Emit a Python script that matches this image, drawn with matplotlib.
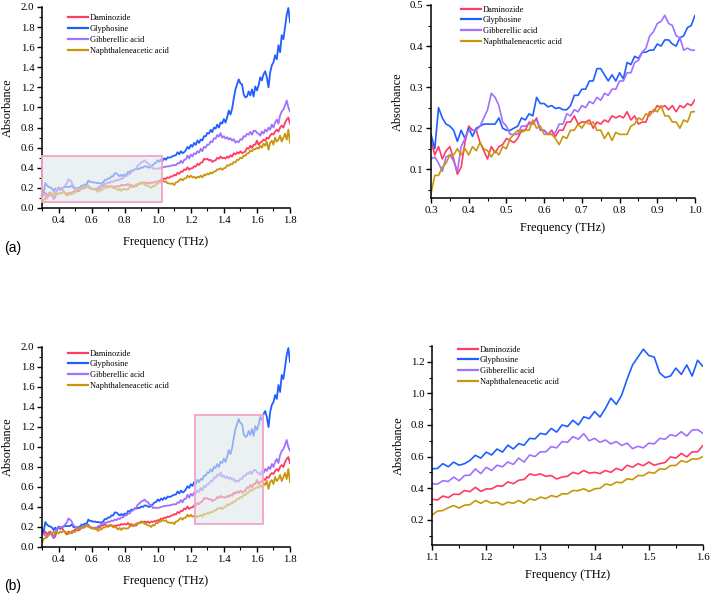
import numpy as np
import matplotlib
matplotlib.use("Agg")
import matplotlib.pyplot as plt
from matplotlib.patches import Rectangle
from matplotlib.ticker import MultipleLocator, FormatStrFormatter

plt.rcParams['font.family'] = ['Liberation Serif', 'DejaVu Serif']

# ---------------- data ----------------
freq = np.round(np.arange(0.30, 1.8001, 0.01), 2)

series_names = ["Daminozide", "Glyphosine", "Gibberellic acid", "Naphthaleneacetic acid"]
series_colors = ["#FF3A64", "#1F5EFF", "#A070FF", "#C8960A"]

daminozide = [
    0.17, 0.135, 0.155, 0.125, 0.145, 0.155, 0.125, 0.088, 0.105, 0.165,
    0.205, 0.195, 0.195, 0.165, 0.145, 0.125, 0.155, 0.14, 0.155, 0.16,
    0.175, 0.17, 0.165, 0.175, 0.195, 0.195, 0.215, 0.21, 0.225, 0.195,
    0.195, 0.185, 0.195, 0.18, 0.195, 0.195, 0.215, 0.215, 0.23, 0.21,
    0.215, 0.215, 0.22, 0.20, 0.215, 0.21, 0.22, 0.215, 0.23, 0.225,
    0.23, 0.225, 0.24, 0.22, 0.23, 0.21, 0.215, 0.215, 0.24, 0.24,
    0.255, 0.25, 0.255, 0.245, 0.255, 0.24, 0.255, 0.25, 0.26, 0.255,
    0.27, 0.265, 0.285, 0.28, 0.295, 0.29, 0.305, 0.30, 0.315, 0.315,
    0.33, 0.325, 0.35, 0.34, 0.362, 0.36, 0.385, 0.378, 0.405, 0.38,
    0.395, 0.395, 0.415, 0.412, 0.44, 0.428, 0.45, 0.455, 0.49, 0.482,
    0.49, 0.475, 0.48, 0.458, 0.47, 0.475, 0.50, 0.49, 0.512, 0.495,
    0.50, 0.492, 0.512, 0.50, 0.525, 0.512, 0.545, 0.532, 0.555, 0.542,
    0.565, 0.545, 0.555, 0.562, 0.598, 0.59, 0.62, 0.598, 0.63, 0.63,
    0.67, 0.63, 0.65, 0.66, 0.68, 0.67, 0.70, 0.69, 0.72, 0.74,
    0.73, 0.76, 0.78, 0.76, 0.80, 0.82, 0.80, 0.85, 0.88, 0.90,
    0.84]

glyphosine = [
    0.185, 0.15, 0.25, 0.225, 0.21, 0.205, 0.195, 0.168, 0.195, 0.175,
    0.20, 0.18, 0.20, 0.205, 0.21, 0.21, 0.21, 0.21, 0.225, 0.20,
    0.195, 0.195, 0.20, 0.205, 0.225, 0.22, 0.235, 0.23, 0.275, 0.26,
    0.26, 0.252, 0.255, 0.248, 0.25, 0.245, 0.245, 0.255, 0.28, 0.28,
    0.295, 0.295, 0.315, 0.315, 0.345, 0.345, 0.33, 0.315, 0.33, 0.315,
    0.335, 0.32, 0.36, 0.355, 0.375, 0.37, 0.385, 0.385, 0.39, 0.39,
    0.405, 0.40, 0.415, 0.415, 0.405, 0.40, 0.42, 0.425, 0.445, 0.45,
    0.475, 0.46, 0.485, 0.47, 0.495, 0.48, 0.505, 0.50, 0.505, 0.515,
    0.522, 0.525, 0.555, 0.535, 0.565, 0.545, 0.555, 0.575, 0.608, 0.59,
    0.628, 0.61, 0.648, 0.628, 0.672, 0.648, 0.682, 0.672, 0.715, 0.712,
    0.747, 0.74, 0.778, 0.755, 0.80, 0.79, 0.83, 0.80, 0.852, 0.84,
    0.885, 0.85, 0.905, 0.97, 0.93, 0.99, 1.09, 1.18, 1.23, 1.28,
    1.24, 1.23, 1.13, 1.10, 1.11, 1.16, 1.12, 1.18, 1.11, 1.21,
    1.17, 1.22, 1.30, 1.27, 1.33, 1.36, 1.30, 1.20, 1.35, 1.42,
    1.45, 1.52, 1.48, 1.62, 1.55, 1.72, 1.68, 1.80, 1.92, 1.99,
    1.85]

gibberellic = [
    0.125, 0.13, 0.115, 0.095, 0.13, 0.135, 0.12, 0.095, 0.155, 0.175,
    0.195, 0.195, 0.195, 0.205, 0.225, 0.245, 0.285, 0.275, 0.255, 0.215,
    0.205, 0.185, 0.185, 0.185, 0.205, 0.205, 0.21, 0.215, 0.22, 0.195,
    0.195, 0.185, 0.185, 0.19, 0.21, 0.21, 0.235, 0.23, 0.245, 0.24,
    0.255, 0.25, 0.265, 0.26, 0.275, 0.268, 0.285, 0.28, 0.295, 0.295,
    0.315, 0.315, 0.335, 0.335, 0.36, 0.365, 0.385, 0.395, 0.425, 0.435,
    0.455, 0.46, 0.475, 0.455, 0.45, 0.425, 0.42, 0.39, 0.395, 0.39,
    0.39, 0.395, 0.40, 0.405, 0.41, 0.41, 0.415, 0.415, 0.42, 0.425,
    0.428, 0.425, 0.447, 0.442, 0.47, 0.447, 0.48, 0.482, 0.522, 0.492,
    0.532, 0.512, 0.545, 0.535, 0.566, 0.55, 0.59, 0.565, 0.61, 0.60,
    0.63, 0.63, 0.663, 0.655, 0.695, 0.69, 0.726, 0.71, 0.745, 0.70,
    0.715, 0.69, 0.705, 0.68, 0.695, 0.67, 0.685, 0.65, 0.665, 0.655,
    0.685, 0.68, 0.715, 0.71, 0.738, 0.73, 0.757, 0.73, 0.768, 0.77,
    0.747, 0.74, 0.72, 0.76, 0.74, 0.78, 0.76, 0.80, 0.78, 0.83,
    0.80, 0.85, 0.88, 0.84, 0.92, 0.96, 0.98, 1.02, 1.07, 1.00,
    0.96]

naphthaleneacetic = [
    0.04, 0.085, 0.085, 0.105, 0.115, 0.135, 0.135, 0.15, 0.135, 0.15,
    0.135, 0.155, 0.145, 0.165, 0.15, 0.145, 0.13, 0.145, 0.135, 0.155,
    0.15, 0.175, 0.185, 0.195, 0.19, 0.195, 0.195, 0.22, 0.20, 0.205,
    0.185, 0.185, 0.185, 0.175, 0.16, 0.18, 0.175, 0.195, 0.195, 0.21,
    0.20, 0.215, 0.21, 0.215, 0.195, 0.195, 0.175, 0.19, 0.17, 0.19,
    0.185, 0.185, 0.185, 0.205, 0.21, 0.225, 0.22, 0.235, 0.23, 0.245,
    0.24, 0.255, 0.23, 0.23, 0.215, 0.215, 0.20, 0.22, 0.215, 0.24,
    0.24, 0.255, 0.255, 0.275, 0.26, 0.265, 0.245, 0.245, 0.24, 0.245,
    0.228, 0.255, 0.258, 0.276, 0.29, 0.274, 0.292, 0.295, 0.322, 0.304,
    0.322, 0.304, 0.311, 0.294, 0.311, 0.304, 0.322, 0.304, 0.332, 0.324,
    0.343, 0.334, 0.353, 0.344, 0.364, 0.364, 0.385, 0.384, 0.396, 0.379,
    0.396, 0.399, 0.426, 0.419, 0.438, 0.434, 0.459, 0.454, 0.48, 0.479,
    0.501, 0.494, 0.522, 0.519, 0.543, 0.544, 0.574, 0.564, 0.585, 0.584,
    0.60, 0.59, 0.62, 0.60, 0.64, 0.62, 0.66, 0.58, 0.65, 0.67,
    0.63, 0.70, 0.66, 0.68, 0.72, 0.66, 0.70, 0.74, 0.68, 0.78,
    0.65]

series_values = [daminozide, glyphosine, gibberellic, naphthaleneacetic]

# zoom windows (x0, x1, y0, y1)
zoom_a = (0.30, 1.025, 0.06, 0.515)
zoom_b = (1.225, 1.638, 0.23, 1.32)

# ---------------- figure ----------------
W, H = 712, 596
fig = plt.figure(figsize=(W / 100, H / 100), dpi=100)


def ax_px(l, t, r, b):
    return fig.add_axes([l / W, 1 - b / H, (r - l) / W, (b - t) / H])


def style(ax, xmaj, xmin, ymaj, ymin, fs=7.8):
    for s in ("top", "right"):
        ax.spines[s].set_visible(False)
    for s in ("left", "bottom"):
        ax.spines[s].set_linewidth(1.1)
    ax.xaxis.set_major_locator(MultipleLocator(xmaj))
    ax.xaxis.set_minor_locator(MultipleLocator(xmin))
    ax.yaxis.set_major_locator(MultipleLocator(ymaj))
    ax.yaxis.set_minor_locator(MultipleLocator(ymin))
    ax.xaxis.set_major_formatter(FormatStrFormatter('%.1f'))
    ax.yaxis.set_major_formatter(FormatStrFormatter('%.1f'))
    ax.tick_params(which='major', direction='out', length=3.5, width=1.0, labelsize=fs, pad=2)
    ax.tick_params(which='minor', direction='out', length=2, width=0.8)


def draw(ax, lw, xlo, xhi):
    for name, vals, col in zip(series_names, series_values, series_colors):
        ax.plot(freq, vals, color=col, lw=lw, label=name, zorder=2)
    ax.set_xlim(xlo, xhi)


def legend(ax, x_px, y_px):
    leg = ax.legend(loc='upper left', bbox_to_anchor=(x_px / W, 1 - y_px / H),
                    bbox_transform=fig.transFigure, frameon=False, fontsize=6,
                    handlelength=2.4, handletextpad=0.25, labelspacing=0.35,
                    borderpad=0, borderaxespad=0)
    for ln in leg.get_lines():
        ln.set_linewidth(1.6)


def rect(ax, box):
    x0, x1, y0, y1 = box
    ax.add_patch(Rectangle((x0, y0), x1 - x0, y1 - y0, facecolor='#dfe8ea',
                           edgecolor='none', alpha=0.6, zorder=3))
    ax.add_patch(Rectangle((x0, y0), x1 - x0, y1 - y0, facecolor='none',
                           edgecolor='#F4A3C6', lw=1.3, zorder=4, clip_on=False))


LBL = 8.8

# Panel (a) left
ax1 = ax_px(42, 7, 290, 208)
draw(ax1, 1.3, 0.3, 1.8)
ax1.set_ylim(0, 2.0)
style(ax1, 0.2, 0.1, 0.2, 0.1)
rect(ax1, zoom_a)
ax1.set_xlabel("Frequency (THz)", fontsize=LBL, labelpad=8)
ax1.set_ylabel("Absorbance", fontsize=LBL, labelpad=4.5)
legend(ax1, 68, 14)

# Panel (a) right
ax2 = ax_px(431, 5, 695, 198)
draw(ax2, 1.2, 0.3, 1.0)
ax2.set_ylim(0.03, 0.5)
style(ax2, 0.1, 0.05, 0.1, 0.05)
ax2.set_xlabel("Frequency (THz)", fontsize=LBL, labelpad=5.5)
ax2.set_ylabel("Absorbance", fontsize=LBL, labelpad=4)
legend(ax2, 461, 5.5)

# Panel (b) left
ax3 = ax_px(42, 347, 290, 547)
draw(ax3, 1.3, 0.3, 1.8)
ax3.set_ylim(0, 2.0)
style(ax3, 0.2, 0.1, 0.2, 0.1)
rect(ax3, zoom_b)
ax3.set_xlabel("Frequency (THz)", fontsize=LBL, labelpad=8)
ax3.set_ylabel("Absorbance", fontsize=LBL, labelpad=4.5)
legend(ax3, 68, 349.5)

# Panel (b) right
ax4 = ax_px(432, 346, 703, 545)
draw(ax4, 1.2, 1.1, 1.6)
ax4.set_ylim(0.04, 1.30)
style(ax4, 0.1, 0.05, 0.2, 0.1)
ax4.set_xlabel("Frequency (THz)", fontsize=LBL, labelpad=5)
ax4.set_ylabel("Absorbance", fontsize=LBL, labelpad=4)
legend(ax4, 458, 345.5)

fig.text(4 / W, 1 - 248 / H, "(a)", fontsize=10, family=['Liberation Sans', 'DejaVu Sans'], va='center')
fig.text(4 / W, 1 - 586 / H, "(b)", fontsize=10, family=['Liberation Sans', 'DejaVu Sans'], va='center')

fig.savefig("out.png", dpi=100)
